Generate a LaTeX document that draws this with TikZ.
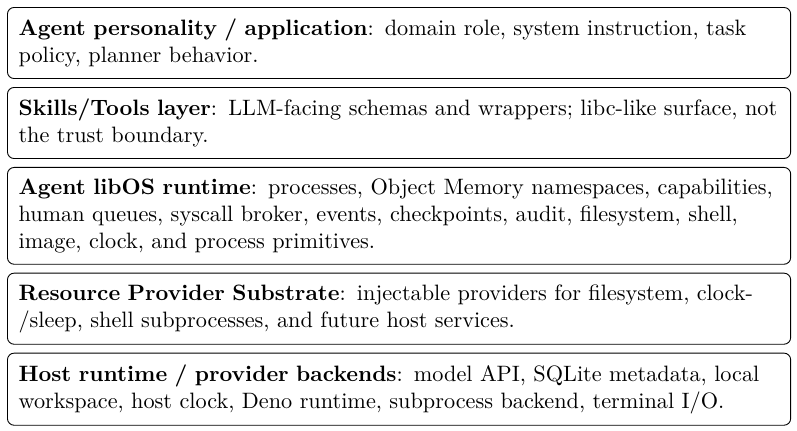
\documentclass[tikz,border=0pt]{standalone}
\usepackage{tikz}
\usetikzlibrary{positioning}
\tikzset{
layer box/.style = { rectangle, draw = black, fill = white, rounded corners = 3pt, text width = 342pt, inner xsep = 5pt, inner ysep = 5.2pt, align = left, execute at begin node = {\hyphenpenalty=10000} },
}

\begin{document}
\begin{tikzpicture}
      \useasboundingbox (0,0) rectangle (358.2pt, -193.3pt);
      \begin{scope}[node distance = 3.6pt]
        \node[layer box, anchor = north west] (app) at (3.15pt, -3.15pt) {\textbf{Agent personality / application}: domain role, system instruction, task policy, planner behavior.};
        \node[layer box, below = of app] (skills) {\textbf{Skills/Tools layer}: LLM-facing schemas and wrappers; libc-like surface, not the trust boundary.};
        \node[layer box, below = of skills] (libos) {\textbf{Agent libOS runtime}: processes, Object Memory namespaces, capabilities, human queues, syscall broker, events, checkpoints, audit, filesystem, shell, image, clock, and process primitives.};
        \node[layer box, below = of libos] (substrate) {\textbf{Resource Provider Substrate}: injectable providers for filesystem, clock-/sleep, shell subprocesses, and future host services.};
        \node[layer box, below = of substrate] (host) {\textbf{Host runtime / provider backends}: model API, SQLite metadata, local workspace, host clock, Deno runtime, subprocess backend, terminal I/O.};
      \end{scope}
    \end{tikzpicture}
\end{document}
